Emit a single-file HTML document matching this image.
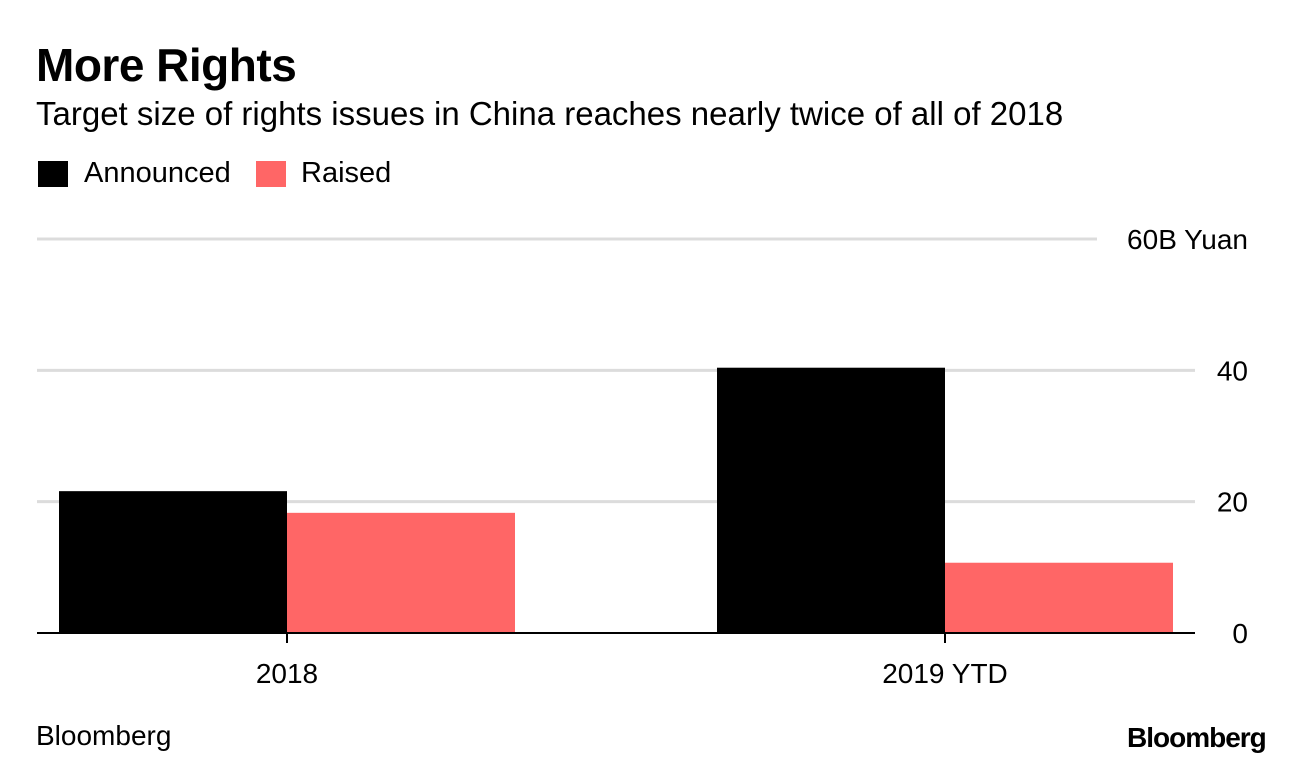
<!DOCTYPE html>
<html><head><meta charset="utf-8"><style>
body{margin:0;background:#fff;font-family:"Liberation Sans",sans-serif;}
#wrap{position:relative;width:1296px;height:768px;overflow:hidden;}
.t{position:absolute;white-space:nowrap;color:#000;}
</style></head><body>
<div id="wrap">
<div class="t" style="left:36px;top:38px;font-size:46px;font-weight:bold;letter-spacing:-0.5px">More Rights</div>
<div class="t" style="left:36px;top:95px;font-size:33px">Target size of rights issues in China reaches nearly twice of all of 2018</div>
<div style="position:absolute;left:38px;top:161px;width:30px;height:26px;background:#000"></div>
<div class="t" style="left:84px;top:157px;font-size:29px">Announced</div>
<div style="position:absolute;left:256px;top:161px;width:30px;height:26px;background:#ff6666"></div>
<div class="t" style="left:301px;top:157px;font-size:29px">Raised</div>
<svg id="chart" width="1296" height="768" style="position:absolute;left:0;top:0"></svg>
<div class="t" style="left:36px;top:720px;font-size:28px">Bloomberg</div>
<div class="t" style="left:1127px;top:722px;font-size:28px;font-weight:bold;letter-spacing:-1px">Bloomberg</div>
</div>
<script>
const categories=["2018","2019 YTD"];
const announced=[21.6,40.4];
const raised=[18.3,10.7];
const ticks=[0,20,40,60];
const tickLabels=["0","20","40","60B Yuan"];
const NS="http://www.w3.org/2000/svg";
const svg=document.getElementById('chart');
const y0=633,pxPer=(633-239)/60;
const y=v=>y0-v*pxPer;
const groupCenter=i=>287+i*658;
const barW=228;
function mk(tag,attrs){const e=document.createElementNS(NS,tag);for(const k in attrs)e.setAttribute(k,attrs[k]);svg.appendChild(e);return e;}
ticks.forEach((t,i)=>{
  if(t>0){
    const g=mk('line',{x1:37,x2:t===60?1097:1195,y1:y(t),y2:y(t),stroke:'#dcdcdc','stroke-width':3});
    
    
  }
  const tx=mk('text',{x:1248,y:y(t)+10,'text-anchor':'end','font-size':28,'font-family':'Liberation Sans, sans-serif'});
  tx.textContent=tickLabels[i];
  
  
});
categories.forEach((c,i)=>{
  const cx=groupCenter(i);
  const a=mk('rect',{x:cx-barW,y:y(announced[i]),width:barW,height:y0-y(announced[i]),fill:'#000'});
  
  
  const r=mk('rect',{x:cx,y:y(raised[i]),width:barW,height:y0-y(raised[i]),fill:'#ff6666'});
  
  
  const tk=mk('line',{x1:cx,x2:cx,y1:y0,y2:y0+10,stroke:'#000','stroke-width':2});
  
  
  const lb=mk('text',{x:cx,y:683,'text-anchor':'middle','font-size':28,'font-family':'Liberation Sans, sans-serif'});
  lb.textContent=c;
  
  
});
const base=mk('line',{x1:37,x2:1195,y1:y0,y2:y0,stroke:'#000','stroke-width':2});


</script>
</body></html>
